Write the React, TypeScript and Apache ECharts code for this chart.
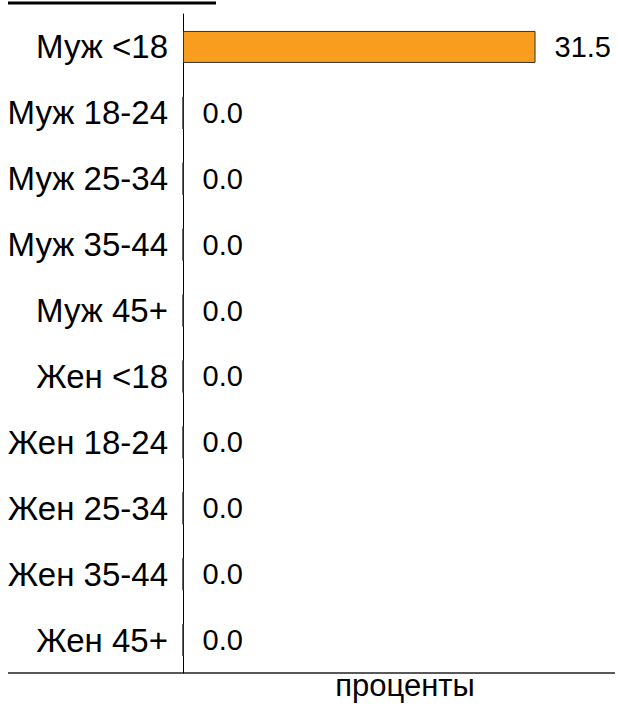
import React, { useEffect, useRef } from "react";
import * as echarts from "echarts";

const categories = [
  "Муж <18",
  "Муж 18-24",
  "Муж 25-34",
  "Муж 35-44",
  "Муж 45+",
  "Жен <18",
  "Жен 18-24",
  "Жен 25-34",
  "Жен 35-44",
  "Жен 45+",
];
const values = [31.5, 0, 0, 0, 0, 0, 0, 0, 0, 0];
const axisName = "проценты";
const axisMax = 38.6;

const FONT = "'Liberation Sans', Arial, sans-serif";

export default function App() {
  const ref = useRef<HTMLDivElement>(null);
  useEffect(() => {
    document.body.style.margin = "0";
    if (!ref.current) return;
    const chart = echarts.init(ref.current, null, { renderer: "svg" });
    chart.setOption({
      animation: false,
      backgroundColor: "#ffffff",
      grid: {
        left: 183,
        right: 2,
        top: 14,
        bottom: 31,
        containLabel: false,
        outerBoundsMode: "none",
      },
      xAxis: {
        type: "value",
        min: 0,
        max: axisMax,
        axisLine: { show: false },
        axisTick: { show: false },
        axisLabel: { show: false },
        splitLine: { show: false },
        name: axisName,
        nameLocation: "middle",
        nameGap: -3,
        nameTextStyle: {
          fontSize: 31,
          fontFamily: FONT,
          color: "#000",
          padding: [0, 0, 0, 12],
        },
      },
      yAxis: {
        type: "category",
        data: categories,
        inverse: true,
        axisLine: { show: true, lineStyle: { color: "#000", width: 1 } },
        axisTick: { show: false },
        axisLabel: {
          fontSize: 33,
          fontFamily: FONT,
          color: "#000",
          margin: 15,
        },
        splitLine: { show: false },
      },
      series: [
        {
          type: "bar",
          data: values,
          barWidth: 32,
          itemStyle: { color: "#f99d1e", borderColor: "#333", borderWidth: 1 },
          label: {
            show: true,
            position: "right",
            distance: 19,
            formatter: (p: any) => Number(p.value).toFixed(1),
            fontSize: 29,
            fontFamily: FONT,
            color: "#000",
          },
        },
      ],
      graphic: [
        {
          type: "line",
          shape: { x1: 8, y1: 3, x2: 216, y2: 3 },
          style: { stroke: "#000", lineWidth: 3 },
        },
        {
          type: "line",
          shape: { x1: 8, y1: 673, x2: 615, y2: 673 },
          style: { stroke: "#222", lineWidth: 1.5 },
        },
      ],
    });
    return () => chart.dispose();
  }, []);
  return <div ref={ref} style={{ width: 617, height: 704 }} />;
}
